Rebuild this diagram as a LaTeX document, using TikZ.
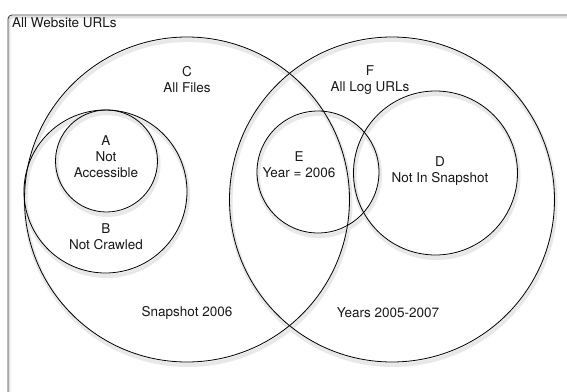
\documentclass[tikz,border=0pt]{standalone}
\usepackage{fontspec}
\setmainfont{TeX Gyre Heros}
\begin{document}
\begin{tikzpicture}[x=1pt,y=-1pt,
  venn/.style={circle,draw=black,line width=0.8pt,inner sep=0pt},
  shadowring/.style={circle,draw=black!9,line width=4pt,inner sep=0pt},
  lbl/.style={align=center,inner sep=0pt,text=black!90,font=\fontsize{13.5}{16}\selectfont}]
\useasboundingbox (0,0) rectangle (567,391);
\fill[white] (0,0) rectangle (567,391);
% frame (cut off at right and bottom)
\draw[black!12,line width=2.5pt] (9,393) -- (9,21) arc[start angle=180,end angle=270,radius=4] -- (569,17);
\draw[black!75,line width=0.9pt] (8,393) -- (8,19) arc[start angle=180,end angle=270,radius=4] -- (569,15);
% shadows
\foreach \cx/\cy/\r in {187/199.5/162.5, 392/199.5/162.5, 105.5/191.5/81.5, 106.5/161/51, 318/172/61, 435.5/173/82}
  \node[shadowring,minimum size=2*\r pt] at (\cx+1,\cy+3) {};
% circles
\node[venn,minimum size=325pt] (C) at (187,199.5) {};
\node[venn,minimum size=325pt] (F) at (392,199.5) {};
\node[venn,minimum size=163pt] (B) at (105.5,191.5) {};
\node[venn,minimum size=102pt] (A) at (106.5,161) {};
\node[venn,minimum size=122pt] (E) at (318,172) {};
\node[venn,minimum size=164pt] (D) at (435.5,173) {};
% labels
\node[lbl,anchor=west] (tall) at (12,23) {All Website URLs};
\node[lbl] (tC) at (187,80) {C\\All Files};
\node[lbl] (tF) at (370,80) {F\\All Log URLs};
\node[lbl] (tA) at (106,157) {A\\Not\\Accessible};
\node[lbl] (tB) at (106,236.5) {B\\Not Crawled};
\node[lbl] (tE) at (299,165) {E\\Year = 2006};
\node[lbl] (tD) at (440,171) {D\\Not In Snapshot};
\node[lbl] (tS) at (187,313) {Snapshot 2006};
\node[lbl] (tY) at (388,313) {Years 2005-2007};
\end{tikzpicture}
\end{document}
